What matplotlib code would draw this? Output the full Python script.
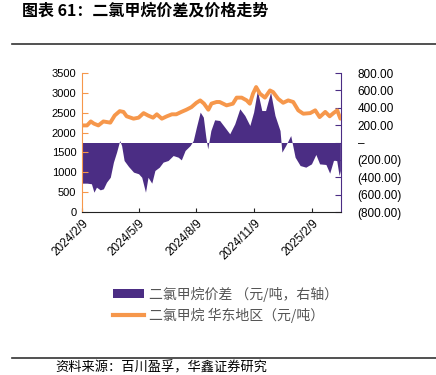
import numpy as np
import pandas as pd
import matplotlib
matplotlib.use("Agg")
from matplotlib import pyplot as plt
from matplotlib.lines import Line2D
from matplotlib.patches import Patch

plt.rcParams["font.family"] = ["Liberation Sans", "Noto Sans CJK SC"]
CJK = ["Noto Sans CJK SC", "DejaVu Sans"]

PURPLE = "#4B2D84"
ORANGE = "#F6974B"

start = pd.Timestamp("2024-02-09")
end = pd.Timestamp("2025-03-27")

# 二氯甲烷 华东地区 price, days since 2024-02-09
price_days = [0, 8, 14, 19, 26, 34, 45, 52, 60, 66, 71, 82, 90, 98, 105, 113, 119, 127,
              135, 143, 150, 158, 166, 174, 182, 188, 194, 201, 206, 214, 219, 230, 240,
              246, 254, 262, 267, 272, 277, 283, 291, 299, 304, 312, 320, 328, 336, 344,
              352, 363, 371, 378, 387, 394, 400, 406, 411]
price = [2180, 2180, 2280, 2225, 2180, 2280, 2250, 2430, 2540, 2520, 2410, 2350, 2375,
         2490, 2430, 2375, 2460, 2350, 2410, 2460, 2460, 2520, 2575, 2640, 2750, 2810,
         2730, 2575, 2730, 2770, 2770, 2685, 2727, 2880, 2880, 2810, 2727, 2980, 3146,
         2980, 2880, 3060, 3020, 2850, 2750, 2810, 2770, 2560, 2475, 2490, 2560, 2390,
         2520, 2410, 2490, 2560, 2350]

# 二氯甲烷价差 (right axis)
spread_days = [0, 8, 15, 19, 23, 29, 34, 39, 45, 50, 55, 60, 63, 67, 74, 82, 90, 95, 101,
               105, 111, 116, 123, 129, 137, 145, 153, 158, 164, 172, 177, 182, 188, 193,
               197, 200, 205, 211, 219, 227, 235, 243, 251, 259, 267, 273, 279, 286, 292,
               300, 307, 315, 318, 324, 332, 339, 347, 356, 365, 372, 378, 388, 394, 400,
               405, 409, 411]
spread = [-468, -468, -475, -572, -514, -545, -533, -457, -400, -226, -111, 23, -35, -207,
          -276, -341, -360, -400, -572, -400, -468, -322, -284, -226, -207, -150, -169,
          -200, -92, -35, 23, 177, 350, 292, 61, -73, 138, 261, 253, 177, 100, 215, 388,
          311, 196, 350, 600, 368, 368, 580, 311, 138, -111, -35, 80, -169, -265, -284,
          -246, -138, -246, -253, -353, -207, -200, -380, -322]

tick_dates = ["2024-02-09", "2024-05-09", "2024-08-09", "2024-11-09", "2025-02-09"]
tick_labels = ["2024/2/9", "2024/5/9", "2024/8/9", "2024/11/9", "2025/2/9"]
left_ticks = [0, 500, 1000, 1500, 2000, 2500, 3000, 3500]
right_ticks = [-800, -600, -400, -200, 0, 200, 400, 600, 800]
right_labels = ["(800.00)", "(600.00)", "(400.00)", "(200.00)", "–",
                "200.00", "400.00", "600.00", "800.00"]

price_x = start + pd.to_timedelta(price_days, unit="D")
spread_x = start + pd.to_timedelta(spread_days, unit="D")

W, H = 436, 375
fig = plt.figure(figsize=(W / 100, H / 100), dpi=100)
ax = fig.add_axes([82 / W, 1 - 212 / H, (341 - 82) / W, (212 - 73) / H])
ax2 = ax.twinx()
ax.set_zorder(ax2.get_zorder() + 1)
ax.patch.set_visible(False)

ax2.fill_between(spread_x, 0, spread, color=PURPLE, lw=0)
ax.plot(price_x, price, color=ORANGE, lw=2.8, solid_capstyle="round")

ax.set_xlim(start, end)
ax.set_ylim(0, 3500)
ax2.set_ylim(-800, 800)

ax.set_yticks(left_ticks)
ax.set_yticklabels([str(v) for v in left_ticks], fontsize=8)
ax2.set_yticks(right_ticks)
ax2.set_yticklabels(right_labels, fontsize=8.5, ha="left")
ax.set_xticks(pd.to_datetime(tick_dates))
ax.set_xticklabels(tick_labels, fontsize=8.5, rotation=45, ha="right",
                   rotation_mode="anchor")

for a in (ax, ax2):
    a.spines["top"].set_visible(False)
ax.spines["left"].set_color(ORANGE)
ax.spines["right"].set_visible(False)
ax2.spines["left"].set_visible(False)
ax2.spines["right"].set_color(PURPLE)
ax2.spines["bottom"].set_visible(False)
ax.spines["bottom"].set_color("#222222")

ax.tick_params(axis="y", direction="in", color=ORANGE, length=4, pad=4)
ax.tick_params(axis="x", direction="in", color="#222222", length=3, pad=4)
ax2.tick_params(axis="y", direction="in", color=PURPLE, length=4, pad=12)

# header / footer
fig.text(22 / W, 1 - 11 / H, "图表 61：二氯甲烷价差及价格走势", family=CJK,
         fontsize=11.5, fontweight="bold", va="center", ha="left")
fig.add_artist(Line2D([12 / W, 1], [1 - 44 / H] * 2, color="#333333", lw=1.2))
fig.add_artist(Line2D([12 / W, 1], [1 - 358 / H] * 2, color="#333333", lw=1.2))
fig.text(55 / W, 1 - 368 / H, "资料来源：百川盈孚，华鑫证券研究", family=CJK,
         fontsize=9.5, va="center", ha="left")

handles = [Patch(facecolor=PURPLE, edgecolor="none"),
           Line2D([], [], color=ORANGE, lw=3)]
labels = ["二氯甲烷价差 （元/吨，右轴）", "二氯甲烷 华东地区（元/吨）"]
leg = fig.legend(handles, labels, loc="upper left",
                 bbox_to_anchor=(100 / W, 1 - 274 / H), frameon=False,
                 prop={"family": CJK, "size": 10}, handlelength=2.3,
                 handleheight=0.6, handletextpad=0.3, labelspacing=0.45)
for t in leg.get_texts():
    t.set_color("#555555")

fig.savefig("out.png", dpi=100)
